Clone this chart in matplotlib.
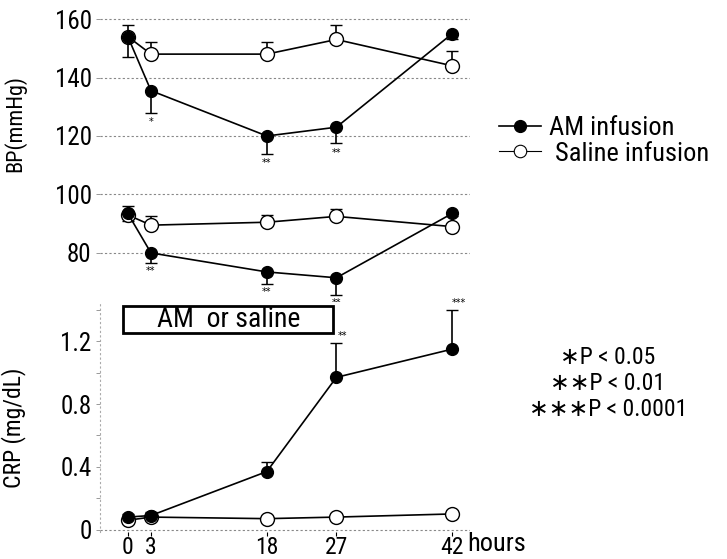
import matplotlib
matplotlib.use("Agg")
import matplotlib.pyplot as plt
from matplotlib.patches import Rectangle
from matplotlib.lines import Line2D

FONTS = ["Roboto Condensed", "Liberation Sans Narrow", "Roboto", "DejaVu Sans"]
plt.rcParams["font.family"] = FONTS

hours = [0, 3, 18, 27, 42]

# systolic BP (mmHg)
sbp_am = [154, 135.5, 120, 123, 155]
sbp_am_err = [7, 7.5, 6, 5.5, 2]
sbp_sal = [154, 148, 148, 153, 144]
sbp_sal_err = [4, 4, 4, 5, 5]
sbp_stars = ["", "*", "**", "**", ""]

# diastolic BP (mmHg)
dbp_am = [93.5, 80, 73.5, 71.5, 93.5]
dbp_am_err = [2.5, 3.5, 4, 6, 1]
dbp_sal = [93, 89.5, 90.5, 92.5, 89]
dbp_sal_err = [3, 3, 2.5, 2.5, 1]
dbp_stars = ["", "**", "**", "**", ""]

# CRP (mg/dL)
crp_am = [0.08, 0.09, 0.37, 0.97, 1.15]
crp_am_err = [0.02, 0.02, 0.06, 0.22, 0.25]
crp_sal = [0.06, 0.08, 0.07, 0.08, 0.10]
crp_sal_err = [0.01, 0.01, 0.01, 0.01, 0.02]
crp_stars = ["", "", "", "**", "***"]

W, H = 727, 559
fig = plt.figure(figsize=(W / 100, H / 100), dpi=100)


def frac(left, top, right, bottom):
    return [left / W, 1 - bottom / H, (right - left) / W, (bottom - top) / H]


def draw_pair(ax, am, am_err, sal, sal_err, am_up=False):
    zero = [0] * len(hours)
    am_yerr = [zero, am_err] if am_up else [am_err, zero]
    ax.errorbar(hours, am, yerr=am_yerr, fmt="none",
                ecolor="black", elinewidth=1.2, capsize=4, zorder=2)
    ax.errorbar(hours, sal, yerr=[zero, sal_err], fmt="none",
                ecolor="black", elinewidth=1.2, capsize=4, zorder=2)
    ax.plot(hours, sal, "-o", color="black", lw=1.2, ms=10,
            mfc="white", mec="black", mew=1.0, zorder=3, clip_on=False)
    ax.plot(hours, am, "-o", color="black", lw=1.2, ms=8.5,
            mfc="black", mec="black", zorder=4, clip_on=False)


# --- blood pressure panel ---
ax1 = fig.add_axes(frac(100, 5, 470, 300))
ax1.set_xlim(-3.6, 44.3)
ax1.set_ylim(63.9, 164.8)
for v in [160, 140, 120, 100, 80]:
    ax1.axhline(v, color="#888888", lw=0.8, ls=(0, (2, 2)), zorder=0)
draw_pair(ax1, sbp_am, sbp_am_err, sbp_sal, sbp_sal_err)
draw_pair(ax1, dbp_am, dbp_am_err, dbp_sal, dbp_sal_err)
for x, y, e, s in zip(hours, sbp_am, sbp_am_err, sbp_stars):
    if s:
        ax1.text(x, y - e - 1.5, s, ha="center", va="top", fontsize=7,
                 family="DejaVu Sans")
for x, y, e, s in zip(hours, dbp_am, dbp_am_err, dbp_stars):
    if s:
        ax1.text(x, y - e - 1.0, s, ha="center", va="top", fontsize=7,
                 family="DejaVu Sans", clip_on=False, zorder=7)
ax1.set_yticks([160, 140, 120, 100, 80])
ax1.set_xticks([])
ax1.tick_params(axis="y", length=3, width=0.6, color="#888888",
                labelsize=18, pad=3)
for sp in ax1.spines.values():
    sp.set_visible(False)
ax1.set_ylabel("BP(mmHg)", fontsize=16)
ax1.yaxis.set_label_coords(-0.2, 0.6)

# --- CRP panel ---
ax2 = fig.add_axes(frac(100, 302, 470, 532))
ax2.set_xlim(-3.6, 44.3)
ax2.set_ylim(-0.015, 1.45)
draw_pair(ax2, crp_am, crp_am_err, crp_sal, crp_sal_err, am_up=True)
for x, y, e, s in zip(hours, crp_am, crp_am_err, crp_stars):
    if s:
        ax2.text(x + 0.8, y + e + 0.01, s, ha="center", va="bottom",
                 fontsize=7, family="DejaVu Sans", clip_on=False, zorder=7)
ax2.add_patch(Rectangle((-0.6, 1.255), 27.2, 0.17, fill=True, fc="white",
                        ec="black", lw=2, zorder=5))
ax2.text(13.0, 1.34, "AM  or saline", ha="center", va="center",
         fontsize=20, zorder=6)
ax2.axhline(0, color="#888888", lw=0.8, ls=(0, (2, 2)), zorder=0)
ax2.set_yticks([0, 0.4, 0.8, 1.2])
ax2.set_yticklabels(["0", "0.4", "0.8", "1.2"])
ax2.set_yticks([0.2, 0.6, 1.0, 1.4], minor=True)
ax2.set_xticks(hours)
ax2.tick_params(axis="y", which="both", length=3, width=0.6,
                color="#888888", labelsize=18, pad=3)
ax2.tick_params(axis="x", length=3, width=0.8, labelsize=17, pad=0)
for name, sp in ax2.spines.items():
    if name == "left":
        sp.set_color("#aaaaaa")
        sp.set_linestyle((0, (1, 3)))
        sp.set_linewidth(0.8)
    else:
        sp.set_visible(False)
ax2.set_ylabel("CRP (mg/dL)", fontsize=17)
ax2.yaxis.set_label_coords(-0.2, 0.455)

# legend
handles = [
    Line2D([], [], color="black", lw=1.2, marker="o", ms=8.5, mfc="black"),
    Line2D([], [], color="black", lw=0.8, marker="o", ms=9, mfc="white",
           mew=0.8),
]
fig.legend(handles, ["AM infusion", " Saline infusion"], loc="center left",
           bbox_to_anchor=(486 / W, 1 - 141 / H), frameon=False,
           fontsize=19, handlelength=1.6, handletextpad=0.3,
           labelspacing=0.05, borderpad=0)

# significance key
for y, s in [(357, "\u2217P < 0.05"), (383, "\u2217\u2217P < 0.01"),
             (410, "\u2217\u2217\u2217P < 0.0001")]:
    fig.text(608 / W, 1 - y / H, s, ha="center", va="center", fontsize=17)

fig.text(467 / W, 1 - 544 / H, "hours", ha="left", va="center", fontsize=19)

fig.savefig("out.png", dpi=100)
